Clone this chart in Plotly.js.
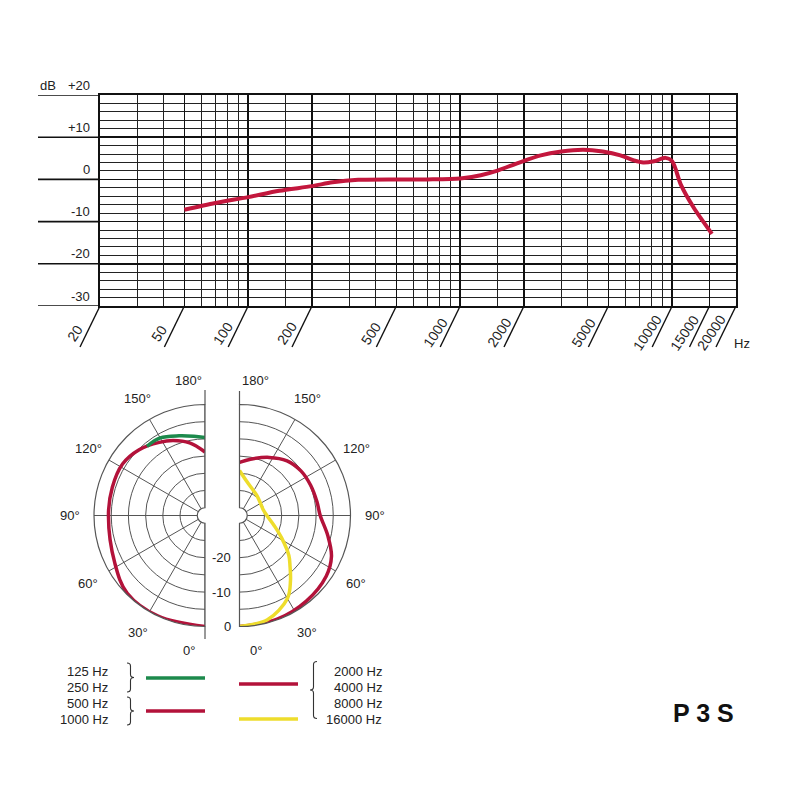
<!DOCTYPE html>
<html>
<head>
<meta charset="utf-8">
<script src="https://cdn.plot.ly/plotly-3.0.1.min.js"></script>
<style>
  html, body { margin: 0; padding: 0; background: #fff; }
  #chart { width: 800px; height: 800px; }
</style>
</head>
<body>
<div id="chart"></div>
<script>
// Frequency response
const freqHz = [50, 70, 100, 140, 200, 250, 330, 500, 700, 1000, 1250, 1500, 1900, 2400, 3000, 3800, 4700, 5700, 6600, 7300, 8200, 9300, 10000, 11000, 12600, 15400];
const freqDb = [-7.2, -5.6, -4.2, -2.7, -1.6, -0.7, -0.1, 0, 0, 0.2, 1.0, 2.1, 4.0, 5.7, 6.6, 7.0, 6.6, 5.7, 4.5, 4.0, 4.3, 5.1, 4.3, -1.3, -6.6, -12.9];

const xMajorTicks = [20, 50, 100, 200, 500, 1000, 2000, 5000, 10000, 15000, 20000];
const xMinorTicks = [30, 40, 60, 70, 80, 90, 150, 300, 400, 600, 700, 800, 900, 1500, 3000, 4000, 6000, 7000, 8000, 9000];
const yMajorTicks = [-30, -20, -10, 0, 10, 20];
const yTickText = ['-30', '-20', '-10', '0', '+10', '+20'];

// Polar patterns (degrees, dB)
const angleTicks = [0, 30, 60, 90, 120, 150, 180];
const ringLabels = [-20, -10, 0];

const lowTheta = [140, 150, 162, 172, 180];            // 125 / 250 Hz
const lowDb = [-6.0, -6.2, -7.9, -9.0, -9.6];
const midTheta = [0, 25, 45, 62, 90, 107, 122, 135, 148, 157, 168, 180];   // 500 / 1000 Hz
const midDb = [0, 0, -0.3, -2.6, -4.2, -4.1, -4.0, -5.2, -7.2, -8.6, -10.7, -13.8];
const highTheta = [0, 20, 38, 55, 66, 77, 90, 100, 113, 126, 139, 153, 169, 180];  // 2000-8000 Hz
const highDb = [0, -0.2, -0.7, -1.5, -3.0, -5.9, -8.8, -9.4, -9.8, -10.2, -11.2, -13.3, -15.6, -16.8];
const topTheta = [0, 15, 30, 38, 45, 51, 62, 73, 90, 105, 120, 136, 150, 167, 180];  // 16000 Hz
const topDb = [0, -0.9, -4.4, -8.2, -11.5, -13.8, -18.4, -21.6, -24.3, -25.2, -25.2, -24.7, -24.0, -22.3, -19.2];

const RED = '#c3173d';
const DARKRED = '#b3123a';
const GREEN = '#1d8a4c';
const YELLOW = '#eedd2c';
const GRID = '#111';
const PGRID = '#555';
const FONT = 'Liberation Sans, Arial, sans-serif';

const W = 800, H = 800;
const px = x => x / W;
const py = y => 1 - y / H;

// page geometry
const box = { left: 100, right: 736, top: 95, bottom: 306 };
const pol = { lcx: 205, rcx: 239.5, cy: 515.5, r: 111, hole: 0.07 };
// pixel position of a frequency on the log axis (for the slanted tick strokes)
const fx = f => box.left + (Math.log10(f) - Math.log10(20)) / 3 * (box.right - box.left);

function label(x, y, text, extra) {
    return Object.assign({ xref: 'paper', yref: 'paper', x: px(x), y: py(y), text: text,
                           xanchor: 'center', yanchor: 'middle', showarrow: false, font: { size: 13 } }, extra || {});
}

const traces = [
    {
        type: 'scatter', x: freqHz, y: freqDb, xaxis: 'x', yaxis: 'y',
        mode: 'lines', hoverinfo: 'skip',
        line: { color: RED, width: 4, shape: 'spline', smoothing: 0.8 }
    }
];

// spokes of both half circles
['polar', 'polar2'].forEach(sp => {
    angleTicks.forEach(a => {
        traces.push({ type: 'scatterpolar', subplot: sp, r: [-30, 0], theta: [a, a], mode: 'lines',
                      line: { color: PGRID, width: 1 }, hoverinfo: 'skip' });
    });
});

traces.push(
    { type: 'scatterpolar', subplot: 'polar', r: midDb, theta: midTheta, mode: 'lines',
      line: { color: DARKRED, width: 3.5, shape: 'spline' }, hoverinfo: 'skip' },
    { type: 'scatterpolar', subplot: 'polar', r: lowDb, theta: lowTheta, mode: 'lines',
      line: { color: GREEN, width: 3.5, shape: 'spline' }, hoverinfo: 'skip' },
    { type: 'scatterpolar', subplot: 'polar2', r: highDb, theta: highTheta, mode: 'lines',
      line: { color: DARKRED, width: 3.5, shape: 'spline' }, hoverinfo: 'skip' },
    { type: 'scatterpolar', subplot: 'polar2', r: topDb, theta: topTheta, mode: 'lines',
      line: { color: YELLOW, width: 3.5, shape: 'spline' }, hoverinfo: 'skip' }
);

const shapes = [];
const annotations = [];

// major dB lines run out to the left of the grid
yMajorTicks.forEach(v => {
    shapes.push({ type: 'line', xref: 'paper', yref: 'y', x0: px(38), x1: px(box.left), y0: v, y1: v,
                  line: { color: GRID, width: 1.6 } });
});
yMajorTicks.forEach((v, i) => {
    annotations.push({ xref: 'paper', yref: 'y', x: px(92), y: v, yshift: 10, xanchor: 'right', yanchor: 'middle',
                       text: yTickText[i], showarrow: false, font: { size: 13 } });
});
annotations.push({ xref: 'paper', yref: 'y', x: px(38), y: 20, yshift: 10, xanchor: 'left', yanchor: 'middle',
                   text: 'dB', showarrow: false, font: { size: 13 } });

// slanted frequency ticks + labels
xMajorTicks.forEach(f => {
    const x = fx(f);
    shapes.push({ type: 'line', xref: 'paper', yref: 'paper', x0: px(x), y0: py(box.bottom),
                  x1: px(x - 20), y1: py(box.bottom + 41), line: { color: GRID, width: 1.4 } });
    annotations.push({ xref: 'x', yref: 'paper', x: Math.log10(f), y: py(333), xshift: -25,
                       xanchor: 'center', yanchor: 'middle',
                       text: String(f), textangle: -56, showarrow: false, font: { size: 14 } });
});
annotations.push(label(742, 343, 'Hz'));

// polar: angle labels around both halves
angleTicks.forEach(a => {
    const t = a * Math.PI / 180;
    const rr = pol.r + 24;
    const edge = (a === 0 || a === 180) ? 16 : 0;
    annotations.push(label(pol.lcx - rr * Math.sin(t) - edge, pol.cy + rr * Math.cos(t), a + '°'));
    annotations.push(label(pol.rcx + rr * Math.sin(t) + edge, pol.cy + rr * Math.cos(t), a + '°'));
});
ringLabels.forEach(v => {
    const rr = pol.r * (pol.hole + (1 - pol.hole) * (v + 30) / 30);
    annotations.push(label(233, pol.cy + rr, String(v), { xanchor: 'right' }));
});

// vertical axis lines sticking out of the half circles
[[pol.lcx, 390, pol.cy - pol.r], [pol.lcx, pol.cy + pol.r, 639], [pol.rcx, 391, pol.cy - pol.r]].forEach(s => {
    shapes.push({ type: 'line', xref: 'paper', yref: 'paper', x0: px(s[0]), x1: px(s[0]), y0: py(s[1]), y1: py(s[2]),
                  line: { color: PGRID, width: 1.2 } });
});

// legend
const legRows = [671, 687, 703, 719];
['125 Hz', '250 Hz', '500 Hz', '1000 Hz'].forEach((t, i) => {
    annotations.push(label(110, legRows[i], t, { xanchor: 'right' }));
});
['2000 Hz', '4000 Hz', '8000 Hz', '16000 Hz'].forEach((t, i) => {
    annotations.push(label(384, legRows[i], t, { xanchor: 'right' }));
});
[[146, 205, 678, GREEN], [146, 205, 711, DARKRED], [239, 298, 684, DARKRED], [239, 298, 719, YELLOW]].forEach(s => {
    shapes.push({ type: 'line', xref: 'paper', yref: 'paper', x0: px(s[0]), x1: px(s[1]), y0: py(s[2]), y1: py(s[2]),
                  line: { color: s[3], width: 3.5 } });
});
function brace(h, dir) {
    const w = 7 * dir, m = 3.5 * dir, k = h / 2;
    return `M0,${k} Q${m},${k} ${m},${k - 3} L${m},3 Q${m},0 ${w},0 Q${m},0 ${m},-3 L${m},${-k + 3} Q${m},${-k} 0,${-k}`;
}
[[127, 677.5, 29, 1], [127, 711, 28, 1], [317, 690, 57, -1]].forEach(b => {
    shapes.push({ type: 'path', xref: 'paper', yref: 'paper', xsizemode: 'pixel', ysizemode: 'pixel',
                  xanchor: px(b[0]), yanchor: py(b[1]), path: brace(b[2], b[3]),
                  line: { color: '#333', width: 1.1 } });
});

annotations.push(label(703, 713, '<b>P 3 S</b>', { font: { size: 25, color: '#111' } }));

const polarCommon = {
    bgcolor: 'rgba(0,0,0,0)',
    hole: pol.hole,
    radialaxis: { range: [-30, 0], tick0: 0, dtick: 5, showticklabels: false, ticks: '',
                  showline: false, gridcolor: PGRID, gridwidth: 1 },
};
const angCommon = { rotation: 270, tickmode: 'array', tickvals: angleTicks, showticklabels: false, ticks: '',
                    showline: true, linecolor: PGRID, linewidth: 1.2, showgrid: false };

const layout = {
    width: W, height: H,
    margin: { l: 0, r: 0, t: 0, b: 0 },
    paper_bgcolor: '#fff',
    plot_bgcolor: '#fff',
    showlegend: false,
    font: { family: FONT, color: '#222', size: 13 },
    xaxis: {
        type: 'log', domain: [px(box.left), px(box.right)], anchor: 'y',
        range: [Math.log10(20), Math.log10(20000)],
        tickmode: 'array', tickvals: xMajorTicks, showticklabels: false, ticks: '',
        showgrid: true, gridcolor: GRID, gridwidth: 1.6,
        minor: { tickmode: 'array', tickvals: xMinorTicks, showgrid: true, gridcolor: '#222', gridwidth: 1, ticks: '' },
        showline: true, mirror: true, linecolor: GRID, linewidth: 1.6, zeroline: false
    },
    yaxis: {
        domain: [py(box.bottom), py(box.top)], anchor: 'x',
        range: [-30, 20],
        tickmode: 'array', tickvals: yMajorTicks, showticklabels: false, ticks: '',
        showgrid: true, gridcolor: GRID, gridwidth: 1.6,
        minor: { dtick: 2, tick0: 0, showgrid: true, gridcolor: '#222', gridwidth: 1, ticks: '' },
        showline: true, mirror: true, linecolor: GRID, linewidth: 1.6, zeroline: false
    },
    polar: Object.assign({}, polarCommon, {
        domain: { x: [px(pol.lcx - pol.r), px(pol.lcx)], y: [py(pol.cy + pol.r), py(pol.cy - pol.r)] },
        sector: [90, 270],
        angularaxis: Object.assign({ direction: 'clockwise' }, angCommon)
    }),
    polar2: Object.assign({}, polarCommon, {
        domain: { x: [px(pol.rcx), px(pol.rcx + pol.r)], y: [py(pol.cy + pol.r), py(pol.cy - pol.r)] },
        sector: [-90, 90],
        angularaxis: Object.assign({ direction: 'counterclockwise' }, angCommon)
    }),
    shapes: shapes,
    annotations: annotations
};

Plotly.newPlot('chart', traces, layout, { displayModeBar: false, staticPlot: true });
</script>
</body>
</html>
